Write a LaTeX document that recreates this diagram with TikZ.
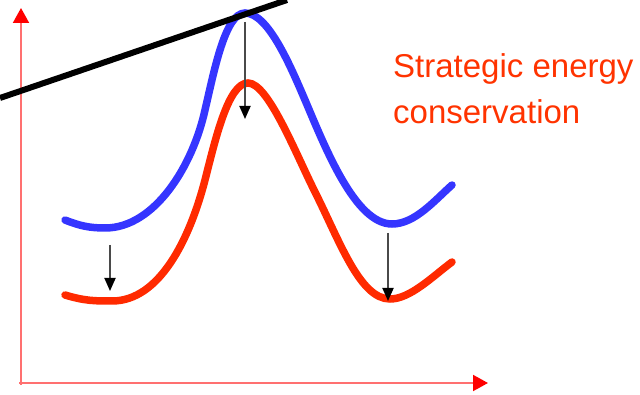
\documentclass[tikz,border=0pt]{standalone}
\usepackage{fontspec}
\setmainfont{Liberation Sans}
\usetikzlibrary{arrows.meta}
\definecolor{axisred}{HTML}{FF7070}
\definecolor{tipred}{HTML}{FF0000}
\definecolor{curvered}{HTML}{FF2A00}
\definecolor{curveblue}{HTML}{3535FF}
\definecolor{textred}{HTML}{FF3300}
\definecolor{shaftgray}{HTML}{4A4A4A}
\begin{document}
\begin{tikzpicture}[x=1pt,y=-1pt,
  axisline/.style={draw=axisred,line width=2pt,-{Triangle[width=16pt,length=15pt,fill=tipred,color=tipred]}},
  curveline/.style={line width=7.5pt,line cap=round},
  droparrow/.style={draw=shaftgray,line width=1.8pt,-{Triangle[width=11pt,length=13pt,color=black]}},
  label/.style={text=textred,font=\fontsize{33}{40}\selectfont,anchor=base west,inner sep=0pt}]
\useasboundingbox (0,0) rectangle (640,395);
\clip (0,0) rectangle (640,395);
% axes
\coordinate (origin) at (21,383);
\coordinate (ytip) at (21,8);
\coordinate (xtip) at (488,383);
\draw[axisline] (21,385) -- (ytip);
\draw[axisline] (19,383) -- (xtip);
% blue curve
\draw[curveline,draw=curveblue] (65,220) .. controls (80,226) and (90,228) .. (105,228)
  .. controls (155,228) and (193,165) .. (205,110)
  .. controls (214,72) and (225,13) .. (245,13)
  .. controls (268,13) and (290,65) .. (305,100)
  .. controls (325,147) and (355,224) .. (392,224)
  .. controls (415,224) and (435,200) .. (452,185);
% red curve
\draw[curveline,draw=curvered] (65,295) .. controls (85,301) and (95,301) .. (112,301)
  .. controls (160,301) and (190,238) .. (205,180)
  .. controls (215,141) and (228,83) .. (248,83)
  .. controls (268,83) and (295,152) .. (315,192)
  .. controls (340,242) and (360,299) .. (390,299)
  .. controls (410,299) and (432,277) .. (452,262);
% tangent line
\coordinate (tA) at (0,98);
\coordinate (tB) at (287,0);
\draw[line width=6pt,black] (tA) -- (tB);
% drop arrows
\coordinate (a1s) at (110,245); \coordinate (a1e) at (110,291);
\coordinate (a2s) at (245,22);  \coordinate (a2e) at (245,119);
\coordinate (a3s) at (388,233); \coordinate (a3e) at (388,301);
\draw[droparrow] (a1s) -- (a1e);
\draw[droparrow] (a2s) -- (a2e);
\draw[droparrow] (a3s) -- (a3e);
% text
\node[label] (t1) at (393,78) {Strategic energy};
\node[label] (t2) at (393,124) {conservation};
\end{tikzpicture}
\end{document}
